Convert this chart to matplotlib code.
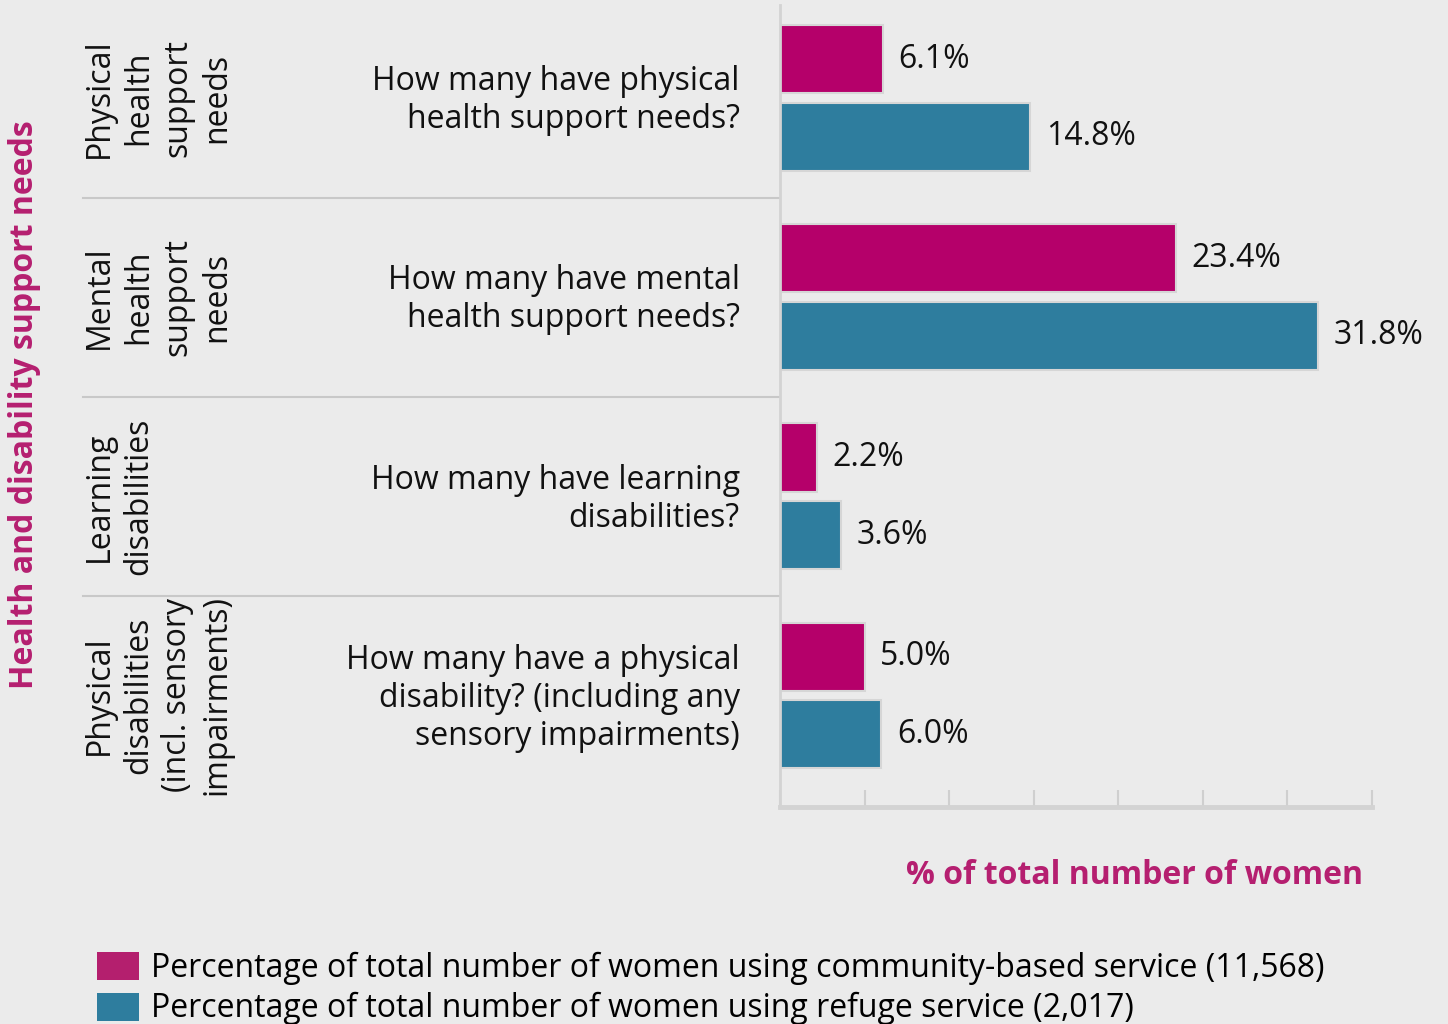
import numpy as np
import matplotlib
matplotlib.use('Agg')
import matplotlib.pyplot as plt
import matplotlib.transforms as mtransforms
from matplotlib.patches import Patch

plt.rcParams['font.family'] = ['Open Sans', 'DejaVu Sans']

# data
groups = ['Physical\nhealth\nsupport\nneeds',
          'Mental\nhealth\nsupport\nneeds',
          'Learning\ndisabilities',
          'Physical\ndisabilities\n(incl. sensory\nimpairments)']
questions = ['How many have physical\nhealth support needs?',
             'How many have mental\nhealth support needs?',
             'How many have learning\ndisabilities?',
             'How many have a physical\ndisability? (including any\nsensory impairments)']
community = [6.1, 23.4, 2.2, 5.0]
refuge = [14.8, 31.8, 3.6, 6.0]
series_labels = ['Percentage of total number of women using community-based service (11,568)',
                 'Percentage of total number of women using refuge service (2,017)']

bg = '#ebebeb'
magenta = '#b5006a'
teal = '#2e7d9e'
title_col = '#b51f70'
fs = 23

fig = plt.figure(figsize=(14.48, 10.24), dpi=100, facecolor=bg)
ax = fig.add_axes([780/1448, 1 - 807/1024, (1372-780)/1448, (807-5)/1024])
ax.set_facecolor(bg)

y = np.arange(len(groups))
barH = 0.342
off = 0.195
b1 = ax.barh(y - off, community, height=barH, color=magenta, edgecolor='#d6d6d6', linewidth=1.5)
b2 = ax.barh(y + off, refuge, height=barH, color=teal, edgecolor='#d6d6d6', linewidth=1.5)

for bars, vals in [(b1, community), (b2, refuge)]:
    for rect, v in zip(bars, vals):
        ax.annotate('{:.1f}%'.format(v), (v, rect.get_y() + rect.get_height()/2),
                    xytext=(11, 0), textcoords='offset points',
                    ha='left', va='center', fontsize=fs, color='#111111')

ax.set_xlim(0, 35)
ax.set_ylim(3.56, -0.467)
ax.set_xticks(np.arange(0, 36, 5))
ax.set_xticklabels([])
ax.set_yticks([])
ax.tick_params(axis='x', direction='in', length=12, width=1.5, color='#cfcfcf')
for s in ['top', 'right']:
    ax.spines[s].set_visible(False)
ax.spines['left'].set_color('#d3d3d3')
ax.spines['left'].set_linewidth(2)
ax.spines['bottom'].set_color('#d3d3d3')
ax.spines['bottom'].set_linewidth(3.5)

# question labels
for i, q in enumerate(questions):
    ax.annotate(q, (0, i), xytext=(-29, -2), textcoords='offset points',
                ha='right', va='center', fontsize=fs, color='#111111',
                linespacing=1.2, annotation_clip=False)

# group labels (rotated)
trans = mtransforms.blended_transform_factory(fig.transFigure, ax.transData)
for i, g in enumerate(groups):
    fig.text(83/1448, i, g, transform=trans, rotation=90, ha='left', va='center',
             multialignment='center', fontsize=fs, color='#111111', linespacing=1.25)

# separators
for b in [0.5, 1.5, 2.5]:
    ax.plot([83/1448, 780/1448], [b, b], transform=trans, color='#c8c8c8',
            lw=1.5, clip_on=False)

fig.text(25/1448, 1 - 405/1024, 'Health and disability support needs', rotation=90,
         ha='center', va='center', fontsize=23, fontweight='bold', color=title_col)
fig.text(1363/1448, 1 - 876/1024, '% of total number of women', ha='right', va='center',
         fontsize=23, fontweight='bold', color=title_col)

handles = [Patch(facecolor='#b41f6e', edgecolor='none'), Patch(facecolor=teal, edgecolor='none')]
fig.legend(handles, series_labels, loc='upper left', bbox_to_anchor=(97/1448, 1 - 952/1024),
           frameon=False, fontsize=fs, handlelength=1.3, handleheight=0.97,
           handletextpad=0.38, labelspacing=0.22, borderaxespad=0, borderpad=0)

plt.savefig('out.png', dpi=100, facecolor=bg)
